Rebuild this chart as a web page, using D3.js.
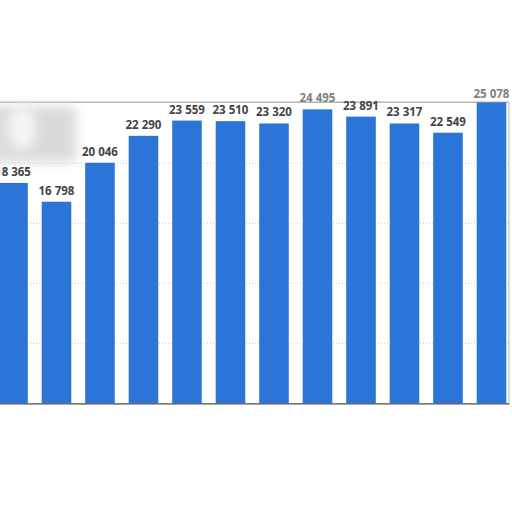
<!DOCTYPE html>
<html>
<head>
<meta charset="utf-8">
<script src="https://cdn.jsdelivr.net/npm/d3@7"></script>
<style>
  body { margin: 0; background: #fff; }
  svg { display: block; }
</style>
</head>
<body>
<script>
var w = 512;
var h = 512;

// bar categories are not visible in the picture, only their order
var categories = ["1", "2", "3", "4", "5", "6", "7", "8", "9", "10", "11", "12"];
var values = [18365, 16798, 20046, 22290, 23559, 23510, 23320, 24495, 23891, 23317, 22549, 25078];
var gridTicks = [5000, 10000, 15000, 20000];

var top_y = 103.3;
var base_y = 403.3;
var right_x = 509;

var svg = d3.select("body").append("svg")
  .attr("width", w)
  .attr("height", h);

var defs = svg.append("defs");
defs.append("filter").attr("id", "blur")
  .attr("x", "-50%").attr("y", "-50%").attr("width", "200%").attr("height", "200%")
  .append("feGaussianBlur").attr("stdDeviation", 6);
defs.append("filter").attr("id", "soft")
  .attr("x", "-20%").attr("y", "-200%").attr("width", "140%").attr("height", "500%")
  .append("feGaussianBlur").attr("stdDeviation", 1.5);

var x = d3.scaleBand()
  .domain(categories)
  .range([-8.76, -8.76 + 12 * 43.5])
  .paddingInner(0.32)
  .paddingOuter(0.16);

var y = d3.scaleLinear()
  .domain([0, 25000])
  .range([base_y, top_y]);

// shadow under the frame
svg.append("line")
  .attr("x1", 0).attr("x2", w)
  .attr("y1", base_y + 5).attr("y2", base_y + 5)
  .attr("stroke", "#bbb")
  .attr("stroke-width", 3)
  .attr("filter", "url(#soft)");

// dotted grid
svg.selectAll("line.grid")
  .data(gridTicks)
  .enter()
  .append("line")
  .attr("class", "grid")
  .attr("x1", 0)
  .attr("x2", right_x)
  .attr("y1", function(d) { return y(d); })
  .attr("y2", function(d) { return y(d); })
  .attr("stroke", "#c8c8c8")
  .attr("stroke-width", 1)
  .attr("stroke-dasharray", "1,2");

// top edge of the frame
svg.append("line")
  .attr("x1", 0).attr("x2", right_x)
  .attr("y1", top_y - 1).attr("y2", top_y - 1)
  .attr("stroke", "#b5b5b5")
  .attr("stroke-width", 1.5);

// right edge of the frame
svg.append("line")
  .attr("x1", right_x).attr("x2", right_x)
  .attr("y1", top_y - 1).attr("y2", base_y + 2)
  .attr("stroke", "#cfcfcf")
  .attr("stroke-width", 1.5);

// blurry patch top left
svg.append("rect")
  .attr("x", -10).attr("y", 106)
  .attr("width", 86).attr("height", 56)
  .attr("fill", "#dadada")
  .attr("filter", "url(#blur)");
svg.append("ellipse")
  .attr("cx", 22).attr("cy", 128)
  .attr("rx", 14).attr("ry", 22)
  .attr("fill", "#f6f6f6")
  .attr("filter", "url(#blur)");

svg.selectAll("rect.bar")
  .data(values)
  .enter()
  .append("rect")
  .attr("class", "bar")
  .attr("x", function(d, i) { return x(categories[i]); })
  .attr("y", function(d) { return y(d); })
  .attr("width", x.bandwidth())
  .attr("height", function(d) { return base_y - y(d); })
  .attr("fill", "#2b74d8");

// baseline
svg.append("line")
  .attr("x1", 0).attr("x2", right_x)
  .attr("y1", base_y + 0.5).attr("y2", base_y + 0.5)
  .attr("stroke", "#4a4a4a")
  .attr("stroke-width", 1.2);

svg.selectAll("text.val")
  .data(values)
  .enter()
  .append("text")
  .attr("class", "val")
  .attr("x", function(d, i) { return x(categories[i]) + x.bandwidth() / 2; })
  .attr("y", function(d) { return Math.max(y(d) - 7, top_y - 5); })
  .attr("text-anchor", "middle")
  .attr("font-family", "'Open Sans', sans-serif")
  .attr("font-weight", "bold")
  .attr("font-size", "11.5px")
  .attr("fill", function(d) { return y(d) - 7 < top_y ? "#808080" : "#444"; })
  .text(function(d) { return d3.format(",")(d).replace(",", " "); });
</script>
</body>
</html>
